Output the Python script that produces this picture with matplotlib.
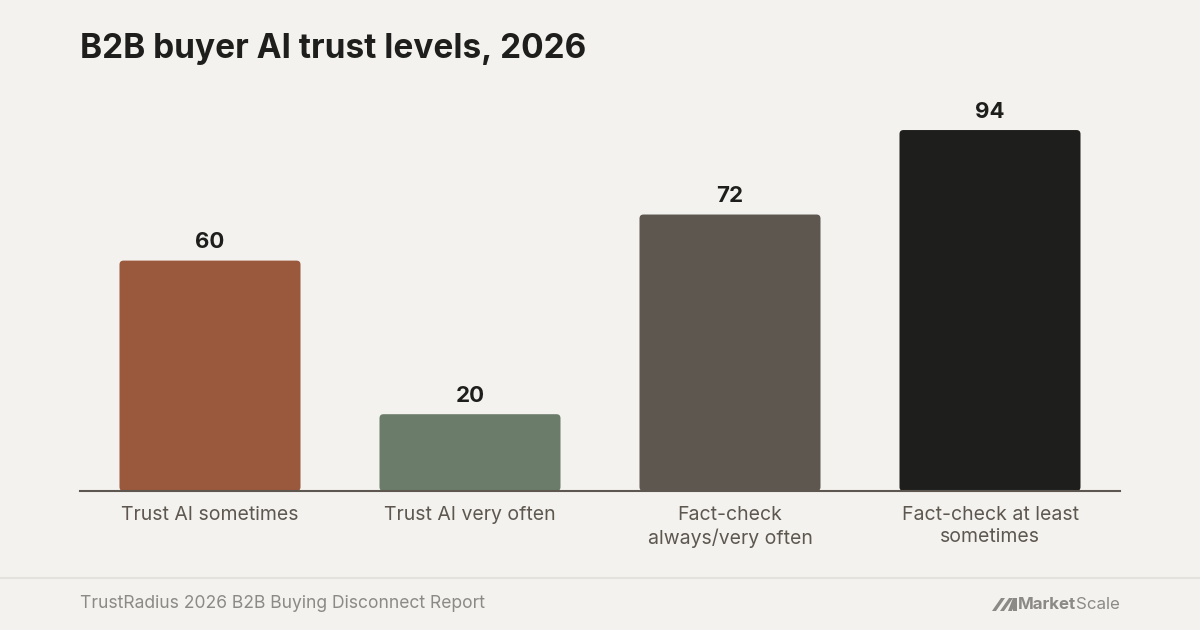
import matplotlib
matplotlib.use("Agg")
import matplotlib.pyplot as plt
from matplotlib.patches import FancyBboxPatch, Polygon
from matplotlib.lines import Line2D

categories = ["Trust AI sometimes", "Trust AI very often",
              "Fact-check\nalways/very often", "Fact-check at least\nsometimes"]
values = [60, 20, 72, 94]
bar_colors = ["#9A583D", "#6B7C6A", "#5D5750", "#1E1E1C"]

title = "B2B buyer AI trust levels, 2026"
source = "TrustRadius 2026 B2B Buying Disconnect Report"

BG = "#F3F2EE"
DARK = "#1E1E1C"
MUTED = "#5D5750"
FOOT = "#8C8A86"

plt.rcParams['font.family'] = ['Inter', 'DejaVu Sans']

W, H = 1200, 630
fig = plt.figure(figsize=(12, 6.3), dpi=100, facecolor=BG)

# axes: baseline at y=491px, bars span x 80..1120
ax_top = 100
ax = fig.add_axes([80 / W, 1 - 491 / H, 1040 / W, (491 - ax_top) / H])
ax.set_facecolor(BG)
ymax = (491 - ax_top) / 3.84
ax.set_xlim(-0.5, len(values) - 0.5)
ax.set_ylim(0, ymax)

bar_w = 181 / 260
# rounding in pixels converted to data units
px_x = (len(values)) / 1040
px_y = ymax / (491 - ax_top)
for i, (v, c) in enumerate(zip(values, bar_colors)):
    p = FancyBboxPatch((i - bar_w / 2, 0), bar_w, v,
                       boxstyle="round,pad=0,rounding_size=%f" % (4 * px_x),
                       mutation_aspect=px_y / px_x,
                       facecolor=c, edgecolor="none", zorder=2)
    ax.add_patch(p)
    ax.annotate(str(v), (i, v), xytext=(0, 6), textcoords="offset points",
                ha="center", va="bottom", fontsize=16, fontweight="bold",
                color=DARK)

for s in ["top", "right", "left"]:
    ax.spines[s].set_visible(False)
ax.spines["bottom"].set_color(MUTED)
ax.spines["bottom"].set_linewidth(1.5)
ax.spines["bottom"].set_zorder(3)
ax.set_yticks([])
ax.set_xticks(range(len(values)))
ax.set_xticklabels(categories, fontsize=14, color=MUTED, linespacing=1.3)
ax.tick_params(axis="x", length=0, pad=11)

# title
fig.text(80 / W, 1 - 49 / H, title, fontsize=24, fontweight="bold",
         color=DARK, ha="left", va="center")

# footer separator and source
fig.add_artist(Line2D([0, 1], [1 - 578 / H] * 2, color="#E4E2DD", lw=1.5))
fig.text(80 / W, 1 - 603.5 / H, source, fontsize=12.6, color=FOOT,
         ha="left", va="center")

# MarketScale logo
ix, iy = 992, 611
for dx in (0, 8):
    fig.add_artist(Polygon([((ix + dx) / W, 1 - iy / H),
                            ((ix + dx + 4) / W, 1 - iy / H),
                            ((ix + dx + 13) / W, 1 - (iy - 13) / H),
                            ((ix + dx + 9) / W, 1 - (iy - 13) / H)],
                           closed=True, facecolor=FOOT, edgecolor="none"))
fig.add_artist(Polygon([((ix + 16) / W, 1 - iy / H),
                        ((ix + 20) / W, 1 - iy / H),
                        ((ix + 25) / W, 1 - (iy - 13) / H),
                        ((ix + 21) / W, 1 - (iy - 13) / H)],
                       closed=True, facecolor=FOOT, edgecolor="none"))
fig.add_artist(Polygon([((ix + 21) / W, 1 - (iy - 13) / H),
                        ((ix + 25) / W, 1 - (iy - 13) / H),
                        ((ix + 25) / W, 1 - iy / H),
                        ((ix + 21) / W, 1 - iy / H)],
                       closed=True, facecolor=FOOT, edgecolor="none"))
t1 = fig.text(1018 / W, 1 - 604.5 / H, "Market", fontsize=12.2, fontweight="bold",
              color=FOOT, ha="left", va="center")
fig.canvas.draw()
bb = t1.get_window_extent()
fig.text(bb.x1 / W, 1 - 604.5 / H, "Scale", fontsize=12.2, color=FOOT,
         ha="left", va="center")

fig.savefig("out.png", dpi=100, facecolor=BG)
